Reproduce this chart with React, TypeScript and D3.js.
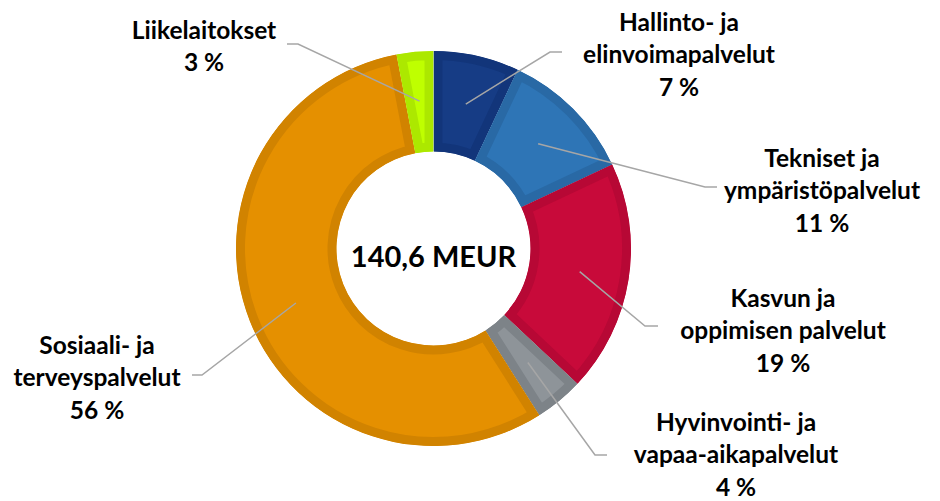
import React, { useEffect, useRef } from "react";
import * as d3 from "d3";

// Budget shares by sector (%), clockwise from 12 o'clock
const categories = [
  "Hallinto- ja elinvoimapalvelut",
  "Tekniset ja ympäristöpalvelut",
  "Kasvun ja oppimisen palvelut",
  "Hyvinvointi- ja vapaa-aikapalvelut",
  "Sosiaali- ja terveyspalvelut",
  "Liikelaitokset",
];
const shares = [7, 11, 19, 4, 56, 3];
const labelLines = [
  ["Hallinto- ja", "elinvoimapalvelut"],
  ["Tekniset ja", "ympäristöpalvelut"],
  ["Kasvun ja", "oppimisen palvelut"],
  ["Hyvinvointi- ja", "vapaa-aikapalvelut"],
  ["Sosiaali- ja", "terveyspalvelut"],
  ["Liikelaitokset"],
];
const totalLabel = "140,6 MEUR";

const fills = ["#163C85", "#2E75B6", "#C80A3A", "#8E9499", "#E59000", "#BFFF00"];
const borders = ["#12357A", "#2969A5", "#B70835", "#7D8388", "#D18300", "#ACE800"];

// label placement: text centre x, first line centre y, elbow and end of leader
const labelLayout = [
  { x: 679, y: 22, elbow: [550, 52], end: [562, 52] },
  { x: 822, y: 158, elbow: [705, 187], end: [717, 187] },
  { x: 783, y: 298, elbow: [645, 326], end: [658, 326] },
  { x: 736, y: 422, elbow: [595, 455], end: [607, 455] },
  { x: 97, y: 345, elbow: [202, 375], end: [192, 375] },
  { x: 204, y: 30, elbow: [298, 44], end: [287, 44] },
];

const App = () => {
  const svgRef = useRef<SVGSVGElement>(null);

  useEffect(() => {
    const width = 940;
    const height = 501;
    const cx = 433.5;
    const cy = 248.5;
    const outerR = 197.5;
    const innerR = 97;

    const svg = d3.select(svgRef.current);
    svg.selectAll("*").remove();
    svg.attr("width", width).attr("height", height);

    const data = shares.map((v, i) => ({ name: categories[i], value: v, i }));
    const pie = d3
      .pie<any>()
      .value((d) => d.value)
      .sort(null);
    const arcs = pie(data);

    const arc = d3.arc<any>().innerRadius(innerR).outerRadius(outerR);
    const midArc = d3.arc<any>().innerRadius(148).outerRadius(148);

    const defs = svg.append("defs");
    arcs.forEach((a, i) => {
      defs
        .append("clipPath")
        .attr("id", `slice-clip-${i}`)
        .append("path")
        .attr("d", arc(a));
    });

    const g = svg.append("g").attr("transform", `translate(${cx},${cy})`);

    // slices with an inner bevel-like border
    g.selectAll("path.slice")
      .data(arcs)
      .enter()
      .append("path")
      .attr("class", "slice")
      .attr("d", arc)
      .attr("fill", (d, i) => fills[i])
      .attr("stroke", (d, i) => borders[i])
      .attr("stroke-width", 18)
      .attr("stroke-linejoin", "miter")
      .attr("clip-path", (d, i) => `url(#slice-clip-${i})`);

    // leader lines
    const line = d3.line();
    arcs.forEach((a, i) => {
      const [mx, my] = midArc.centroid(a);
      const L = labelLayout[i];
      svg
        .append("path")
        .attr(
          "d",
          line([
            [cx + mx, cy + my],
            L.elbow as [number, number],
            L.end as [number, number],
          ])
        )
        .attr("fill", "none")
        .attr("stroke", "#A6A6A6")
        .attr("stroke-width", 1.5);
    });

    // labels
    const fs = 24.5;
    const lh = 32.5;
    arcs.forEach((a, i) => {
      const L = labelLayout[i];
      const lines = [...labelLines[i], `${shares[i]} %`];
      const t = svg
        .append("text")
        .attr("text-anchor", "middle")
        .attr("font-family", "Lato, 'Open Sans', sans-serif")
        .attr("font-weight", "bold")
        .attr("font-size", fs)
        .attr("fill", "#000");
      lines.forEach((s, k) => {
        t.append("tspan")
          .attr("x", L.x)
          .attr("y", L.y + k * lh + fs * 0.36)
          .text(s);
      });
    });

    // total in the middle
    svg
      .append("text")
      .attr("x", cx)
      .attr("y", 257 + 29 * 0.36)
      .attr("text-anchor", "middle")
      .attr("font-family", "Lato, 'Open Sans', sans-serif")
      .attr("font-weight", "bold")
      .attr("font-size", 29)
      .attr("fill", "#000")
      .text(totalLabel);
  }, []);

  return (
    <svg
      ref={svgRef}
      style={{ position: "absolute", left: 0, top: 0, background: "#fff" }}
    />
  );
};

export default App;
